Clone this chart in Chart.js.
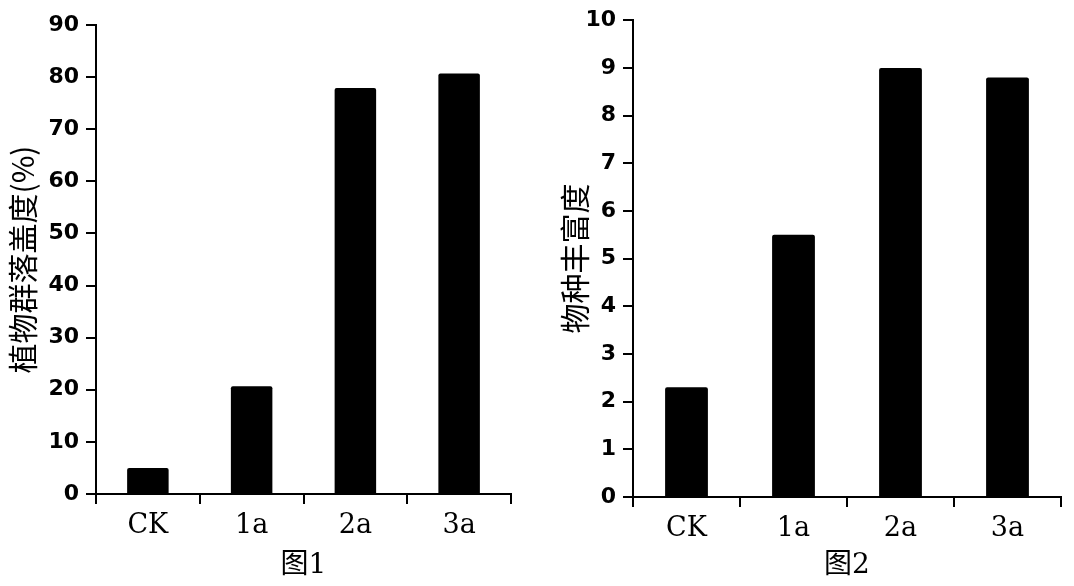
<!DOCTYPE html>
<html lang="zh">
<head>
<meta charset="utf-8">
<script src="https://cdn.jsdelivr.net/npm/chart.js@4/dist/chart.umd.min.js"></script>
<style>
  html, body { margin: 0; padding: 0; background: #fff; }
  .wrap { position: absolute; top: 0; height: 586px; }
</style>
</head>
<body>
<div class="wrap" style="left:0; width:540px;"><canvas id="chart1" width="540" height="586"></canvas></div>
<div class="wrap" style="left:540px; width:534px;"><canvas id="chart2" width="534" height="586"></canvas></div>
<script>
// data
const categories = ['CK', '1a', '2a', '3a'];
const coverValues = [5, 20.7, 77.9, 80.7];      // 植物群落盖度(%)
const richnessValues = [2.3, 5.5, 9.0, 8.8];    // 物种丰富度
const coverTicks = { min: 0, max: 90, step: 10 };
const richnessTicks = { min: 0, max: 10, step: 1 };

const tickFont = { family: '"DejaVu Sans", Verdana, sans-serif', weight: 'bold', size: 22 };
const catFont = { family: '"DejaVu Serif", "Liberation Serif", serif', size: 27 };
const cjkFont = '"Noto Sans CJK SC", "DejaVu Sans", sans-serif';
const captionFont = '"DejaVu Serif", "Noto Sans CJK SC", serif';

function makeChart(id, values, range, yTitle, caption, box) {
  new Chart(document.getElementById(id), {
    type: 'bar',
    data: {
      labels: categories,
      datasets: [{
        data: values,
        backgroundColor: '#000',
        barPercentage: 0.4,
        categoryPercentage: 1,
        borderRadius: 2
      }]
    },
    options: {
      responsive: false,
      animation: false,
      layout: { padding: { left: 0, right: box.right, top: box.top, bottom: 0 } },
      plugins: { legend: { display: false }, tooltip: { enabled: false } },
      scales: {
        x: {
          offset: true,
          grid: { display: true, offset: true, drawOnChartArea: false, color: '#000', lineWidth: 2, tickLength: 10 },
          border: { color: '#000', width: 2 },
          ticks: { color: '#000', font: catFont, padding: 6 },
          title: { display: true, text: caption, color: '#000', font: { family: captionFont, size: 28 }, padding: { top: 0, bottom: 3 } },
          afterFit: s => { s.height = box.xHeight; }
        },
        y: {
          min: range.min,
          max: range.max,
          grid: { display: true, drawOnChartArea: false, color: '#000', lineWidth: 2, tickLength: 10 },
          border: { color: '#000', width: 2 },
          ticks: { stepSize: range.step, color: '#000', font: tickFont, padding: 7 },
          title: { display: true, text: yTitle, color: '#000', font: { family: cjkFont, size: 30 }, padding: { top: box.titlePad, bottom: 0 } },
          afterFit: s => { s.width = box.yWidth; }
        }
      }
    }
  });
}

makeChart('chart1', coverValues, coverTicks, '植物群落盖度(%)', '图1',
  { right: 29, top: 25, xHeight: 92, yWidth: 96, titlePad: 5 });
makeChart('chart2', richnessValues, richnessTicks, '物种丰富度', '图2',
  { right: 13, top: 20, xHeight: 89, yWidth: 93, titlePad: 17 });
</script>
</body>
</html>
